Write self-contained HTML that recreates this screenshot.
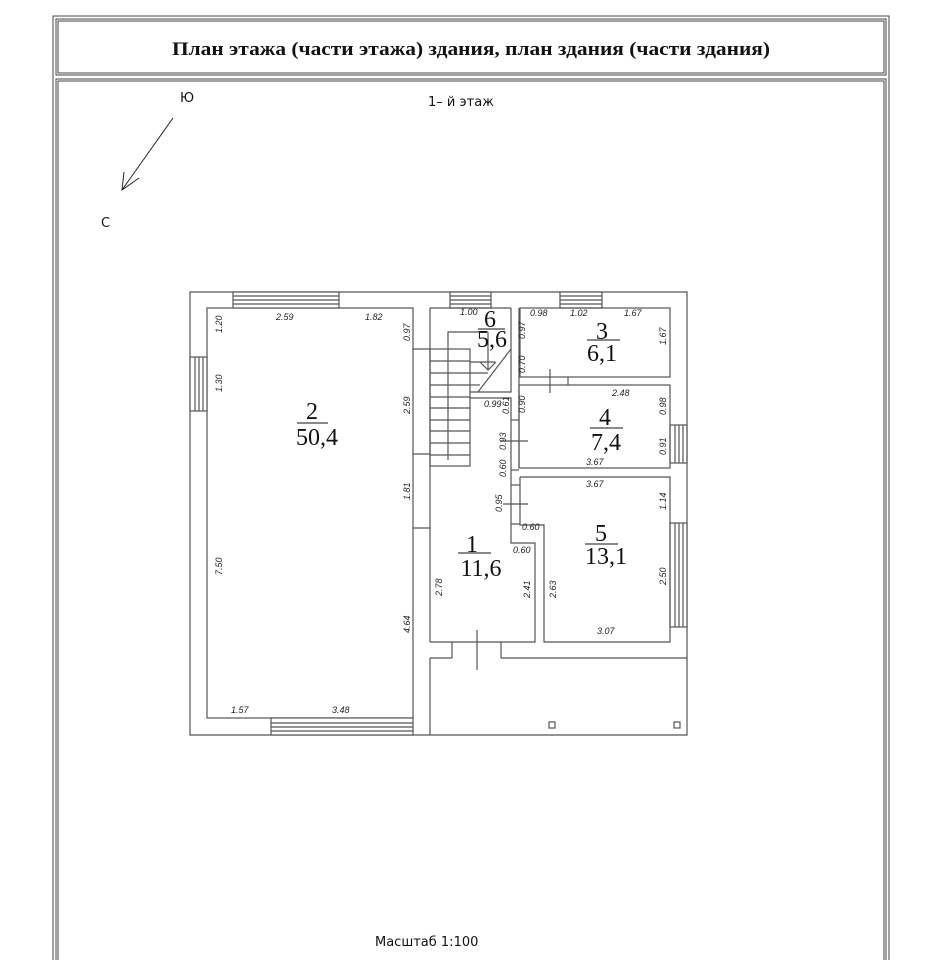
<!DOCTYPE html>
<html><head><meta charset="utf-8"><style>
html,body{margin:0;padding:0;background:#fff;width:943px;height:960px;overflow:hidden}
svg{display:block}
.d{font-family:"Liberation Sans",sans-serif;font-size:9px;font-style:italic;fill:#222}
.n{font-family:"Liberation Serif",serif;font-size:24px;fill:#111;text-anchor:middle}
.c{font-family:"DejaVu Sans","Liberation Sans",sans-serif;font-size:13px;fill:#111}
</style></head><body>
<svg width="943" height="960" viewBox="0 0 943 960" xmlns="http://www.w3.org/2000/svg">
<g fill="none" stroke="#444" stroke-width="1">
<rect x="53" y="16" width="836" height="960"/>
<rect x="56" y="19" width="830" height="56"/>
<rect x="56" y="79" width="830" height="900"/>
<rect x="58" y="21" width="826" height="52"/>
<rect x="58" y="81" width="826" height="900"/>
</g>
<text x="172" y="55" textLength="598" lengthAdjust="spacingAndGlyphs" style="font-family:'Liberation Serif',serif;font-weight:bold;font-size:19px" fill="#111">План этажа (части этажа) здания, план здания (части здания)</text>
<text x="428" y="106" class="c">1– й  этаж</text>
<text x="180" y="102" class="c">Ю</text>
<text x="101" y="227" class="c">С</text>
<g stroke="#222" stroke-width="1" fill="none">
<line x1="173" y1="118" x2="122" y2="190"/>
<polyline points="124,172 122,190 139,178"/>
</g>
<g fill="none" stroke="#555" stroke-width="1.2">
<polyline points="430,735 190,735 190,292 687,292 687,735 430,735"/>
<rect x="207" y="308" width="206" height="410"/>
<rect x="233" y="292" width="106" height="16" fill="#fff"/><line x1="233" y1="296" x2="339" y2="296"/><line x1="233" y1="300" x2="339" y2="300"/><line x1="233" y1="304" x2="339" y2="304"/>
<rect x="450" y="292" width="41" height="16" fill="#fff"/><line x1="450" y1="296" x2="491" y2="296"/><line x1="450" y1="300" x2="491" y2="300"/><line x1="450" y1="304" x2="491" y2="304"/>
<rect x="560" y="292" width="42" height="16" fill="#fff"/><line x1="560" y1="296" x2="602" y2="296"/><line x1="560" y1="300" x2="602" y2="300"/><line x1="560" y1="304" x2="602" y2="304"/>
<rect x="190" y="357" width="17" height="54" fill="#fff"/><line x1="195" y1="357" x2="195" y2="411"/><line x1="199" y1="357" x2="199" y2="411"/><line x1="203" y1="357" x2="203" y2="411"/>
<rect x="670" y="425" width="17" height="38" fill="#fff"/><line x1="675" y1="425" x2="675" y2="463"/><line x1="679" y1="425" x2="679" y2="463"/><line x1="683" y1="425" x2="683" y2="463"/>
<rect x="670" y="523" width="17" height="104" fill="#fff"/><line x1="675" y1="523" x2="675" y2="627"/><line x1="679" y1="523" x2="679" y2="627"/><line x1="683" y1="523" x2="683" y2="627"/>
<rect x="271" y="718" width="142" height="17" fill="#fff"/><line x1="271" y1="723" x2="413" y2="723"/><line x1="271" y1="727" x2="413" y2="727"/><line x1="271" y1="731" x2="413" y2="731"/>
<line x1="413" y1="349" x2="430" y2="349"/><line x1="413" y1="454" x2="430" y2="454"/>
<line x1="413" y1="528" x2="430" y2="528"/>
<line x1="430" y1="308" x2="430" y2="642"/>
<line x1="430" y1="308" x2="511" y2="308"/>
<polyline points="511,308 511,392 470,392"/>
<rect x="430" y="349" width="40" height="117"/>
<line x1="430" y1="361" x2="470" y2="361"/><line x1="430" y1="373" x2="470" y2="373"/><line x1="430" y1="385" x2="470" y2="385"/>
<line x1="430" y1="397" x2="470" y2="397"/><line x1="430" y1="408" x2="470" y2="408"/><line x1="430" y1="420" x2="470" y2="420"/>
<line x1="430" y1="431" x2="470" y2="431"/><line x1="430" y1="443" x2="470" y2="443"/><line x1="430" y1="455" x2="470" y2="455"/>
<polyline points="448,460 448,332 488,332"/>
<line x1="470" y1="362" x2="495" y2="362"/><line x1="470" y1="373" x2="488" y2="373"/><line x1="470" y1="385" x2="480" y2="385"/>
<line x1="478" y1="392" x2="511" y2="349"/>
<line x1="488" y1="332" x2="488" y2="370"/><polyline points="480,362 488,370 496,362"/>
<polyline points="470,398 511,398 511,543 535,543 535,642 430,642"/>
<line x1="511" y1="420" x2="519" y2="420"/><line x1="511" y1="470" x2="519" y2="470"/><line x1="511" y1="485" x2="520" y2="485"/><line x1="511" y1="524" x2="520" y2="524"/>
<line x1="500" y1="441" x2="528" y2="441"/><line x1="503" y1="504" x2="528" y2="504"/>
<line x1="519" y1="308" x2="519" y2="468"/>
<rect x="520" y="308" width="150" height="69"/>
<line x1="550" y1="369" x2="550" y2="393"/><line x1="568" y1="377" x2="568" y2="385"/>
<rect x="519" y="385" width="151" height="83"/>
<polyline points="520,477 670,477 670,642 544,642 544,525 520,525 520,477"/>
<line x1="452" y1="642" x2="452" y2="658"/><line x1="501" y1="642" x2="501" y2="658"/>
<line x1="477" y1="630" x2="477" y2="670"/>
<polyline points="501,658 687,658"/>
<line x1="430" y1="658" x2="452" y2="658"/>
<line x1="430" y1="658" x2="430" y2="735"/>
<rect x="549" y="722" width="6" height="6"/><rect x="674" y="722" width="6" height="6"/>
</g>
<g class="d">
<text x="276" y="320">2.59</text><text x="365" y="320">1.82</text>
<text x="460" y="315">1.00</text><text x="530" y="316">0.98</text><text x="570" y="316">1.02</text><text x="624" y="316">1.67</text>
<text x="612" y="396">2.48</text><text x="586" y="465">3.67</text><text x="586" y="487">3.67</text>
<text x="484" y="407">0.99</text><text x="522" y="530">0.60</text><text x="513" y="553">0.60</text>
<text x="597" y="634">3.07</text><text x="231" y="713">1.57</text><text x="332" y="713">3.48</text>
<g transform="rotate(-90)">
<text x="-333" y="222">1.20</text><text x="-392" y="222">1.30</text><text x="-575" y="222">7.50</text>
<text x="-341" y="410">0.97</text><text x="-414" y="410">2.59</text><text x="-500" y="410">1.81</text><text x="-633" y="410">4.64</text>
<text x="-339" y="525">0.97</text><text x="-373" y="525">0.70</text><text x="-413" y="525">0.90</text>
<text x="-414" y="509">0.61</text><text x="-450" y="506">0.93</text><text x="-477" y="506">0.60</text><text x="-512" y="502">0.95</text>
<text x="-345" y="666">1.67</text><text x="-415" y="666">0.98</text><text x="-455" y="666">0.91</text><text x="-510" y="666">1.14</text><text x="-585" y="666">2.50</text>
<text x="-596" y="442">2.78</text><text x="-598" y="530">2.41</text><text x="-598" y="556">2.63</text>
</g>
</g>
<g>
<text x="312" y="419" class="n">2</text><line x1="297" y1="423" x2="328" y2="423" stroke="#111"/><text x="317" y="445" class="n">50,4</text>
<text x="490" y="327" class="n">6</text><line x1="478" y1="329" x2="505" y2="329" stroke="#111"/><text x="492" y="347" class="n">5,6</text>
<text x="602" y="339" class="n">3</text><line x1="587" y1="340" x2="620" y2="340" stroke="#111"/><text x="602" y="361" class="n">6,1</text>
<text x="605" y="425" class="n">4</text><line x1="590" y1="428" x2="623" y2="428" stroke="#111"/><text x="606" y="450" class="n">7,4</text>
<text x="601" y="541" class="n">5</text><line x1="585" y1="544" x2="618" y2="544" stroke="#111"/><text x="606" y="564" class="n">13,1</text>
<text x="472" y="552" class="n">1</text><line x1="458" y1="553" x2="491" y2="553" stroke="#111"/><text x="481" y="576" class="n">11,6</text>
</g>
<text x="375" y="946" class="c">Масштаб 1:100</text>
</svg>
</body></html>
